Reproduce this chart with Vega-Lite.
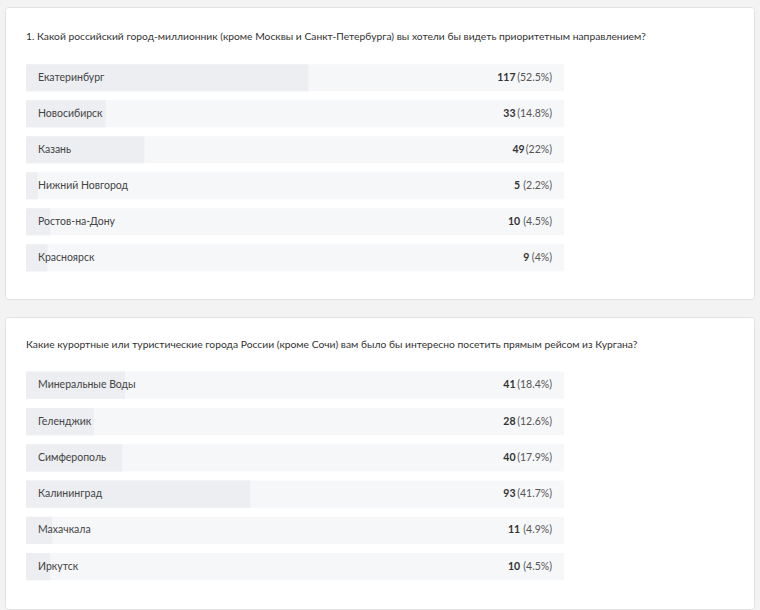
{
  "$schema": "https://vega.github.io/schema/vega-lite/v6.json",
  "background": "#f3f3f3",
  "padding": {"left": 4, "top": 6, "right": 7, "bottom": 4},
  "spacing": 16,
  "config": {
    "font": "Lato",
    "view": {"fill": "white", "stroke": "#e2e2e2", "cornerRadius": 3},
    "text": {"font": "Lato"}
  },
  "datasets": {
    "q1": [
      {"city": "Екатеринбург", "share": 52.5, "count": "117", "pct": "(52.5%)"},
      {"city": "Новосибирск", "share": 14.8, "count": "33", "pct": "(14.8%)"},
      {"city": "Казань", "share": 22, "count": "49", "pct": "(22%)"},
      {"city": "Нижний Новгород", "share": 2.2, "count": "5", "pct": "(2.2%)"},
      {"city": "Ростов-на-Дону", "share": 4.5, "count": "10", "pct": "(4.5%)"},
      {"city": "Красноярск", "share": 4, "count": "9", "pct": "(4%)"}
    ],
    "q2": [
      {"city": "Минеральные Воды", "share": 18.4, "count": "41", "pct": "(18.4%)"},
      {"city": "Геленджик", "share": 12.6, "count": "28", "pct": "(12.6%)"},
      {"city": "Симферополь", "share": 17.9, "count": "40", "pct": "(17.9%)"},
      {"city": "Калининград", "share": 41.7, "count": "93", "pct": "(41.7%)"},
      {"city": "Махачкала", "share": 4.9, "count": "11", "pct": "(4.9%)"},
      {"city": "Иркутск", "share": 4.5, "count": "10", "pct": "(4.5%)"}
    ]
  },
  "vconcat": [
    {
      "width": 749,
      "height": 292,
      "layer": [
        {
          "data": {"name": "q1"},
          "mark": {"type": "bar", "color": "#f6f7f9"},
          "encoding": {
            "y": {"field": "city", "type": "nominal", "axis": null,
                  "scale": {"domain": ["Вопрос", "Екатеринбург", "Новосибирск", "Казань", "Нижний Новгород", "Ростов-на-Дону", "Красноярск"],
                            "paddingInner": 0.25, "paddingOuter": 0.68, "align": 0.435}},
            "x": {"datum": 100, "type": "quantitative", "axis": null, "scale": {"domain": [-3.9, 135.32], "nice": false, "zero": false}}
          }
        },
        {
          "data": {"name": "q1"},
          "mark": {"type": "bar", "color": "#eceef1"},
          "encoding": {
            "y": {"field": "city", "type": "nominal"},
            "x": {"field": "share", "type": "quantitative"}
          }
        },
        {
          "data": {"name": "q1"},
          "mark": {"type": "text", "align": "left", "baseline": "middle", "dx": 12, "fontSize": 10.5, "color": "#444444"},
          "encoding": {
            "y": {"field": "city", "type": "nominal"},
            "x": {"datum": 0, "type": "quantitative"},
            "text": {"field": "city"}
          }
        },
        {
          "data": {"name": "q1"},
          "mark": {"type": "text", "align": "right", "baseline": "middle", "dx": -12, "fontSize": 10.5, "color": "#555555"},
          "encoding": {
            "y": {"field": "city", "type": "nominal"},
            "x": {"datum": 100, "type": "quantitative"},
            "text": {"field": "pct"}
          }
        },
        {
          "data": {"name": "q1"},
          "mark": {"type": "text", "align": "right", "baseline": "middle", "fontSize": 10.5, "fontWeight": "bold", "color": "#333333",
                   "dx": {"expr": "-(12 + 2.8 + 4.6*length(datum.pct) + 1.5)"}},
          "encoding": {
            "y": {"field": "city", "type": "nominal"},
            "x": {"datum": 100, "type": "quantitative"},
            "text": {"field": "count"}
          }
        },
        {
          "data": {"values": [{"q": "1. Какой российский город-миллионник (кроме Москвы и Санкт-Петербурга) вы хотели бы видеть приоритетным направлением?", "city": "Вопрос"}]},
          "mark": {"type": "text", "align": "left", "baseline": "middle", "dy": -5, "fontSize": 10.3, "color": "#333333"},
          "encoding": {
            "y": {"field": "city", "type": "nominal"},
            "x": {"datum": 0, "type": "quantitative"},
            "text": {"field": "q"}
          }
        }
      ]
    },
    {
      "width": 749,
      "height": 292,
      "layer": [
        {
          "data": {"name": "q2"},
          "mark": {"type": "bar", "color": "#f6f7f9"},
          "encoding": {
            "y": {"field": "city", "type": "nominal", "axis": null,
                  "scale": {"domain": ["Вопрос", "Минеральные Воды", "Геленджик", "Симферополь", "Калининград", "Махачкала", "Иркутск"],
                            "paddingInner": 0.25, "paddingOuter": 0.647, "align": 0.39}},
            "x": {"datum": 100, "type": "quantitative", "axis": null, "scale": {"domain": [-3.9, 135.32], "nice": false, "zero": false}}
          }
        },
        {
          "data": {"name": "q2"},
          "mark": {"type": "bar", "color": "#eceef1"},
          "encoding": {
            "y": {"field": "city", "type": "nominal"},
            "x": {"field": "share", "type": "quantitative"}
          }
        },
        {
          "data": {"name": "q2"},
          "mark": {"type": "text", "align": "left", "baseline": "middle", "dx": 12, "fontSize": 10.5, "color": "#444444"},
          "encoding": {
            "y": {"field": "city", "type": "nominal"},
            "x": {"datum": 0, "type": "quantitative"},
            "text": {"field": "city"}
          }
        },
        {
          "data": {"name": "q2"},
          "mark": {"type": "text", "align": "right", "baseline": "middle", "dx": -12, "fontSize": 10.5, "color": "#555555"},
          "encoding": {
            "y": {"field": "city", "type": "nominal"},
            "x": {"datum": 100, "type": "quantitative"},
            "text": {"field": "pct"}
          }
        },
        {
          "data": {"name": "q2"},
          "mark": {"type": "text", "align": "right", "baseline": "middle", "fontSize": 10.5, "fontWeight": "bold", "color": "#333333",
                   "dx": {"expr": "-(12 + 2.8 + 4.6*length(datum.pct) + 1.5)"}},
          "encoding": {
            "y": {"field": "city", "type": "nominal"},
            "x": {"datum": 100, "type": "quantitative"},
            "text": {"field": "count"}
          }
        },
        {
          "data": {"values": [{"q": "Какие курортные или туристические города России (кроме Сочи) вам было бы интересно посетить прямым рейсом из Кургана?", "city": "Вопрос"}]},
          "mark": {"type": "text", "align": "left", "baseline": "middle", "dy": -4, "fontSize": 10.3, "color": "#333333"},
          "encoding": {
            "y": {"field": "city", "type": "nominal"},
            "x": {"datum": 0, "type": "quantitative"},
            "text": {"field": "q"}
          }
        }
      ]
    }
  ]
}
